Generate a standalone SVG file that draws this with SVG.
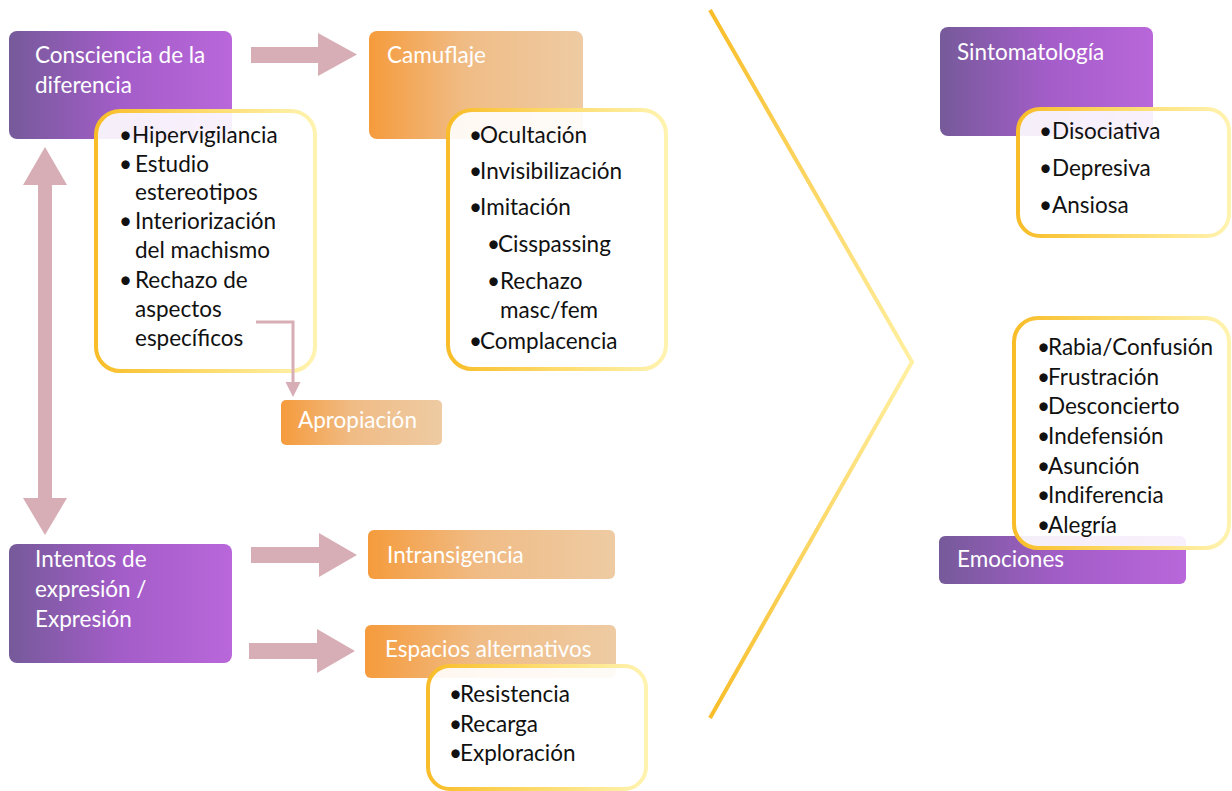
<svg xmlns="http://www.w3.org/2000/svg" width="1232" height="791" viewBox="0 0 1232 791">
  <defs>
    <linearGradient id="gPurple" x1="0" y1="0" x2="1" y2="0">
      <stop offset="0" stop-color="#765a9a"/>
      <stop offset="0.5" stop-color="#a35dc8"/>
      <stop offset="1" stop-color="#b967da"/>
    </linearGradient>
    <linearGradient id="gOrange" x1="0" y1="0" x2="1" y2="0">
      <stop offset="0" stop-color="#f59b3c"/>
      <stop offset="0.45" stop-color="#f0bc86"/>
      <stop offset="1" stop-color="#eecba3"/>
    </linearGradient>
    <linearGradient id="gGold" x1="0" y1="0" x2="1" y2="0">
      <stop offset="0" stop-color="#f8bd28"/>
      <stop offset="0.5" stop-color="#fddb6c"/>
      <stop offset="1" stop-color="#fff3b0"/>
    </linearGradient>
    <linearGradient id="gChevron" gradientUnits="userSpaceOnUse" x1="0" y1="10" x2="0" y2="718">
      <stop offset="0" stop-color="#f8bd28"/>
      <stop offset="0.5" stop-color="#fff0a2"/>
      <stop offset="1" stop-color="#f8bd28"/>
    </linearGradient>
    <style>
      .head { fill: url(#gPurple); }
      .step { fill: url(#gOrange); }
      .list { fill: #ffffff; fill-opacity: 0.9; stroke: url(#gGold); stroke-width: 4; }
      .lbl { font-family: Lato, "Open Sans", sans-serif; font-size: 22.5px; fill: #ffffff; }
      .item { font-family: Lato, "Open Sans", sans-serif; font-size: 22.5px; fill: #111111; }
      .blk { fill: #d8aeb6; }
      .elbow { fill: none; stroke: #d8aeb6; stroke-width: 3; }
    </style>
  </defs>

  <rect width="1232" height="791" fill="#ffffff"/>

  <!-- left column: awareness -->
  <g id="consciencia">
    <rect class="head" x="9" y="31" width="223" height="108" rx="8"/>
    <text class="lbl"><tspan x="35" y="63">Consciencia de la</tspan><tspan x="35" y="93">diferencia</tspan></text>
  </g>
  <g id="consciencia-lista">
    <rect class="list" x="96" y="111" width="219" height="260" rx="24"/>
    <text class="item">
      <tspan x="119" y="143">•</tspan><tspan x="132" y="143">Hipervigilancia</tspan>
      <tspan x="119" y="172">•</tspan><tspan x="135" y="172">Estudio</tspan>
      <tspan x="135" y="200">estereotipos</tspan>
      <tspan x="119" y="229">•</tspan><tspan x="135" y="229">Interiorización</tspan>
      <tspan x="135" y="258">del machismo</tspan>
      <tspan x="119" y="288">•</tspan><tspan x="135" y="288">Rechazo de</tspan>
      <tspan x="135" y="317">aspectos</tspan>
      <tspan x="135" y="346">específicos</tspan>
    </text>
  </g>

  <g id="camuflaje">
    <rect class="step" x="369" y="31" width="214" height="108" rx="8"/>
    <text class="lbl" x="387" y="63">Camuflaje</text>
  </g>
  <g id="camuflaje-lista">
    <rect class="list" x="448" y="110" width="218" height="259" rx="24"/>
    <text class="item">
      <tspan x="469" y="143">•</tspan><tspan x="480" y="143">Ocultación</tspan>
      <tspan x="469" y="179">•</tspan><tspan x="480" y="179">Invisibilización</tspan>
      <tspan x="469" y="215">•</tspan><tspan x="480" y="215">Imitación</tspan>
      <tspan x="487" y="252">•</tspan><tspan x="498" y="252">Cisspassing</tspan>
      <tspan x="487" y="289">•</tspan><tspan x="500" y="289">Rechazo</tspan>
      <tspan x="500" y="318">masc/fem</tspan>
      <tspan x="469" y="349">•</tspan><tspan x="480" y="349">Complacencia</tspan>
    </text>
  </g>

  <g id="apropiacion">
    <rect class="step" x="281" y="400" width="161" height="45" rx="5"/>
    <text class="lbl" x="298" y="428">Apropiación</text>
  </g>

  <!-- left column: expression -->
  <g id="intentos">
    <rect class="head" x="9" y="544" width="223" height="119" rx="8"/>
    <text class="lbl"><tspan x="35" y="567">Intentos de</tspan><tspan x="35" y="597">expresión /</tspan><tspan x="35" y="627">Expresión</tspan></text>
  </g>

  <g id="intransigencia">
    <rect class="step" x="368" y="530" width="247" height="49" rx="6"/>
    <text class="lbl" x="387" y="563">Intransigencia</text>
  </g>

  <g id="espacios">
    <rect class="step" x="365" y="625" width="251" height="53" rx="6"/>
    <text class="lbl" x="385" y="657">Espacios alternativos</text>
  </g>
  <g id="espacios-lista">
    <rect class="list" x="428" y="666" width="218" height="123" rx="22"/>
    <text class="item">
      <tspan x="449" y="702">•</tspan><tspan x="460" y="702">Resistencia</tspan>
      <tspan x="449" y="732">•</tspan><tspan x="460" y="732">Recarga</tspan>
      <tspan x="449" y="761">•</tspan><tspan x="460" y="761">Exploración</tspan>
    </text>
  </g>

  <!-- divider chevron -->
  <g id="chevron">
    <polyline points="710,10 912,362 710,718" fill="none" stroke="url(#gChevron)" stroke-width="4"/>
  </g>

  <!-- right column -->
  <g id="sintomatologia">
    <rect class="head" x="940" y="27" width="213" height="109" rx="8"/>
    <text class="lbl" x="957" y="60">Sintomatología</text>
  </g>
  <g id="sintomatologia-lista">
    <rect class="list" x="1018" y="109" width="211" height="127" rx="22"/>
    <text class="item">
      <tspan x="1039" y="139">•</tspan><tspan x="1052" y="139">Disociativa</tspan>
      <tspan x="1039" y="176">•</tspan><tspan x="1052" y="176">Depresiva</tspan>
      <tspan x="1039" y="213">•</tspan><tspan x="1052" y="213">Ansiosa</tspan>
    </text>
  </g>

  <g id="emociones">
    <rect class="head" x="939" y="536" width="247" height="48" rx="6"/>
    <text class="lbl" x="957" y="567">Emociones</text>
  </g>
  <g id="emociones-lista">
    <rect class="list" x="1014" y="318" width="215" height="230" rx="24"/>
    <text class="item">
      <tspan x="1037" y="355">•</tspan><tspan x="1048" y="355">Rabia/Confusión</tspan>
      <tspan x="1037" y="385">•</tspan><tspan x="1048" y="385">Frustración</tspan>
      <tspan x="1037" y="414">•</tspan><tspan x="1048" y="414">Desconcierto</tspan>
      <tspan x="1037" y="444">•</tspan><tspan x="1048" y="444">Indefensión</tspan>
      <tspan x="1037" y="474">•</tspan><tspan x="1048" y="474">Asunción</tspan>
      <tspan x="1037" y="503">•</tspan><tspan x="1048" y="503">Indiferencia</tspan>
      <tspan x="1037" y="533">•</tspan><tspan x="1048" y="533">Alegría</tspan>
    </text>
  </g>

  <!-- connectors -->
  <g id="connectors">
    <polygon class="blk" points="251,47 318,47 318,33 357,54.5 318,76 318,63 251,63"/>
    <polygon class="blk" points="251,547 319,547 319,533 357,555 319,577 319,563 251,563"/>
    <polygon class="blk" points="249,643 317,643 317,629 355,651 317,673 317,659 249,659"/>
    <polygon class="blk" points="45,147 67,185 52,185 52,498 67,498 45,535 23,498 38,498 38,185 23,185"/>
    <path class="elbow" d="M256,322 H293 V384"/>
    <polygon class="blk" points="285.5,382 300.5,382 293,397"/>
  </g>
</svg>
